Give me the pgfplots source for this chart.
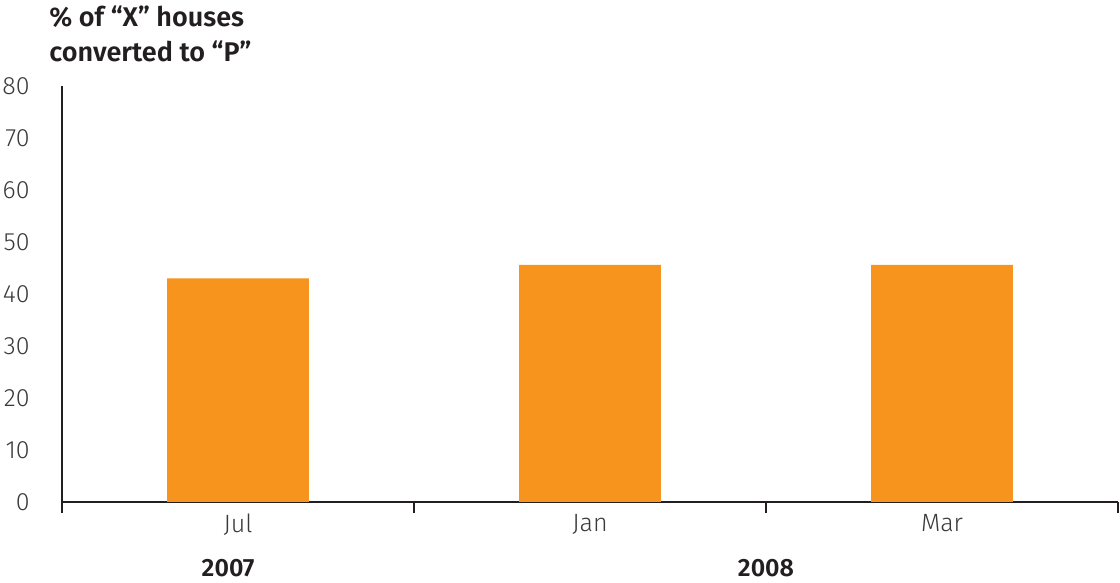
\documentclass[border=0pt]{standalone}
\usepackage{pgfplots}
\pgfplotsset{compat=1.18}
\usepackage{fontspec}
\setmainfont{Fira Sans}[UprightFont={* Light}, BoldFont={* SemiBold}]
\definecolor{barorange}{HTML}{F7941E}
\definecolor{inkdark}{HTML}{231F20}
\definecolor{labelgray}{HTML}{3A3A3A}

\begin{document}
\begin{tikzpicture}
\begin{axis}[
    scale only axis, width=528pt, height=208pt,
    axis x line=bottom, axis y line=left,
    axis line style={draw=inkdark, line width=0.8pt, -},
    xmin=-0.5, xmax=2.5, ymin=0, ymax=80,
    ytick={0,10,...,80},
    ytick style={draw=none},
    yticklabel style={anchor=east, inner sep=0pt, xshift=-16pt, font=\fontsize{12.5}{14}\selectfont, text=labelgray},
    xtick={0,1,2}, xticklabels={Jul,Jan,Mar},
    major tick length=0pt,
    xticklabel style={anchor=north, inner sep=0pt, yshift=-6pt, font=\fontsize{12.5}{14}\selectfont, text=labelgray},
    extra x ticks={-0.5,0.5,1.5,2.5},
    extra x tick labels={},
    extra x tick style={tick align=outside, major tick length=5.5pt,
        tick style={draw=inkdark, line width=1.2pt}},
    /pgf/number format/assume math mode=true,
    clip=false,
]
\addplot[ybar, bar width=0.403, fill=barorange, draw=none] coordinates {(0,43) (1,45.6) (2,45.6)};
\coordinate (bl) at (rel axis cs:0,0);
\node[anchor=north west, align=left, inner sep=0pt, text=inkdark,
      font=\bfseries\fontsize{13.5}{17.5}\selectfont]
  at ([xshift=-6.5pt, yshift=40.5pt]rel axis cs:0,1) {\% of “X” houses\\converted to “P”};
\node[anchor=base, inner sep=0pt, text=inkdark, font=\bfseries\fontsize{12.5}{14}\selectfont]
  at ([yshift=-37.5pt]axis cs:-0.028,0) {2007};
\node[anchor=base, inner sep=0pt, text=inkdark, font=\bfseries\fontsize{12.5}{14}\selectfont]
  at ([yshift=-37.5pt]axis cs:1.5,0) {2008};
\end{axis}
\pgfresetboundingbox
\path (bl) ++(-31pt,-40.5pt) rectangle ++(560pt,291.5pt);
\end{tikzpicture}
\end{document}
